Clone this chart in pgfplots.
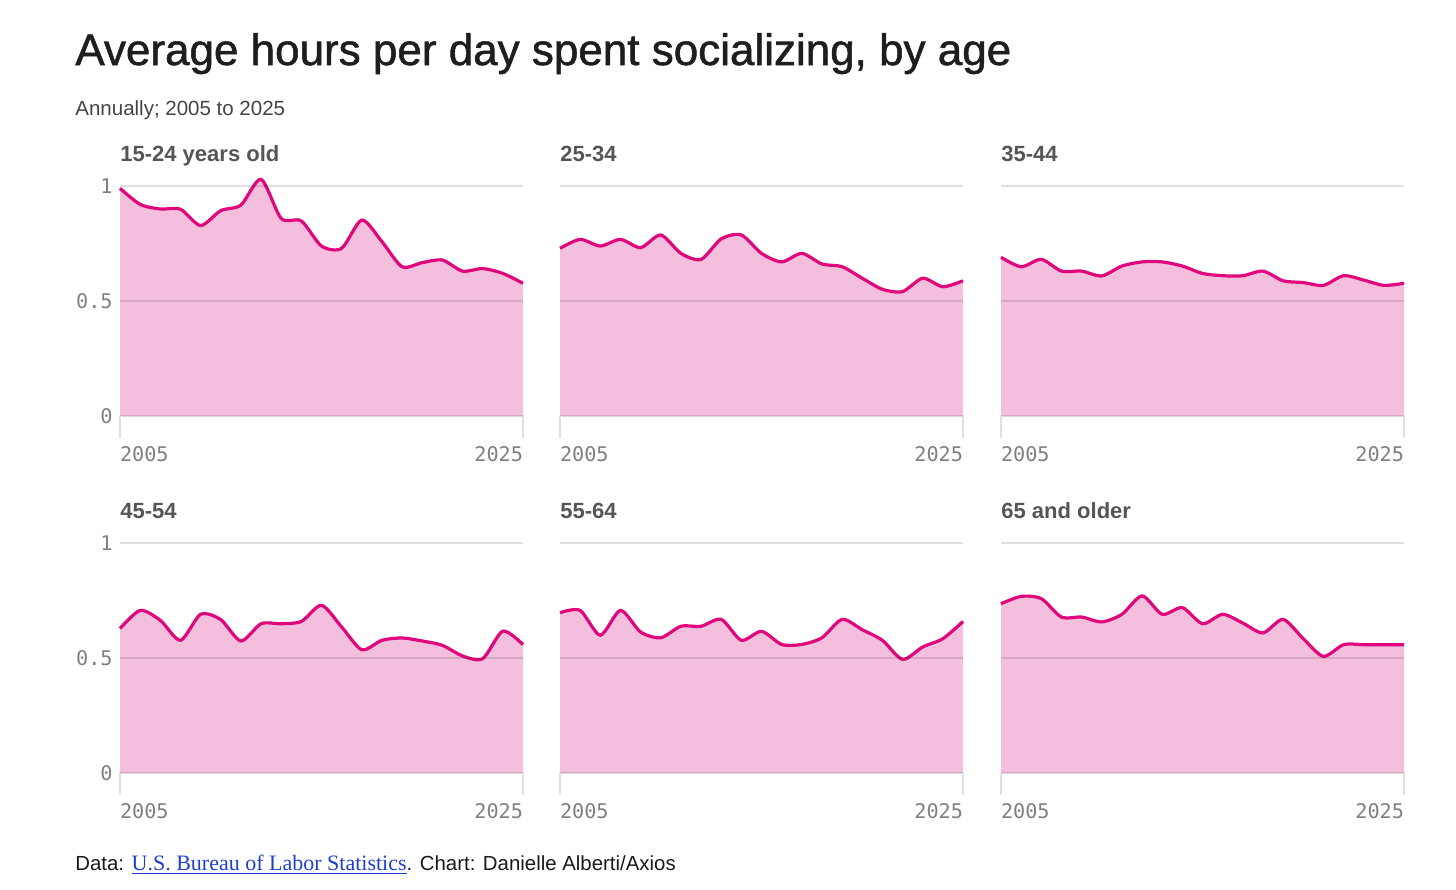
\documentclass[border=0pt]{standalone}
\usepackage{pgfplots}
\usepackage{pgfplotstable}
\pgfplotsset{compat=1.18}
\usepackage{fontspec}
\setmainfont{Liberation Sans}
\newfontfamily\titlef[FakeBold=1.2]{Liberation Sans}
\newfontfamily\monof{DejaVu Sans Mono}
\newfontfamily\seriff{Liberation Serif}
\definecolor{linec}{HTML}{E0077D}
\definecolor{fillc}{HTML}{F4BFDC}
\definecolor{ticklab}{HTML}{808080}
\definecolor{ptitle}{HTML}{555555}
\definecolor{linkc}{HTML}{1F3FCC}
\definecolor{titlec}{HTML}{1E1E1E}
\definecolor{subc}{HTML}{444444}

\pgfplotstableread{
year a b c d e f
2005 0.990 0.729 0.690 0.628 0.697 0.736
2006 0.920 0.768 0.649 0.707 0.707 0.768
2007 0.900 0.739 0.681 0.664 0.599 0.758
2008 0.899 0.768 0.630 0.577 0.707 0.678
2009 0.828 0.732 0.630 0.690 0.613 0.678
2010 0.893 0.787 0.609 0.667 0.588 0.657
2011 0.917 0.707 0.652 0.574 0.638 0.690
2012 1.029 0.681 0.670 0.649 0.638 0.770
2013 0.859 0.770 0.670 0.649 0.668 0.690
2014 0.848 0.787 0.652 0.659 0.577 0.719
2015 0.739 0.707 0.620 0.729 0.616 0.649
2016 0.729 0.670 0.610 0.635 0.559 0.690
2017 0.852 0.707 0.610 0.536 0.559 0.652
2018 0.758 0.661 0.630 0.577 0.588 0.609
2019 0.649 0.649 0.588 0.587 0.668 0.668
2020 0.667 0.599 0.580 0.574 0.623 0.584
2021 0.678 0.551 0.568 0.555 0.577 0.507
2022 0.630 0.541 0.610 0.509 0.494 0.558
2023 0.641 0.599 0.591 0.497 0.548 0.558
2024 0.620 0.562 0.568 0.617 0.584 0.558
2025 0.577 0.588 0.577 0.558 0.659 0.558
}\data

\pgfplotsset{
  panel/.style={
    scale only axis, width=201.5pt, height=126.5pt,
    xmin=2005, xmax=2025, ymin=0, ymax=1.1,
    axis x line*=bottom, axis y line*=left,
    axis line style={draw=none},
    xtick={2005,2025}, ytick={0,0.5,1},
    xticklabel={\ifnum\ticknum=0 \rlap{2005}\else\llap{2025}\fi},
    yticklabels={},
    tick align=inside, major tick length=11pt,
    x tick style={color=black!12, line width=0.6pt, yshift=-11pt},
    y tick style={draw=none},
    ymajorgrids, major grid style={black, opacity=0.12, line width=0.6pt},
    axis on top,
    xticklabel style={font=\monof\fontsize{10.1}{12}\selectfont, text=ticklab, anchor=north, inner sep=0pt, yshift=-15pt},
    yticklabel style={font=\monof\fontsize{10.1}{12}\selectfont, text=ticklab, anchor=east, inner sep=0pt, xshift=-3.5pt},
    clip=false,
    anchor=south west,
  },
  firstcol/.style={yticklabels={0,0.5,1}},
  fillp/.style={draw=none, fill=fillc, smooth, tension=0.45},
  linep/.style={linec, line width=1.6pt, smooth, tension=0.45},
}

\begin{document}
\begin{tikzpicture}[x=0.5pt, y=-0.5pt]
\useasboundingbox (0,0) rectangle (1456,889);
\coordinate (p1) at (120,416);
\coordinate (p2) at (560,416);
\coordinate (p3) at (1001,416);
\coordinate (p4) at (120,773);
\coordinate (p5) at (560,773);
\coordinate (p6) at (1001,773);

\node[anchor=base west, inner sep=0, font=\titlef\fontsize{22}{24}\selectfont, text=titlec] at (75,65) {Average hours per day spent socializing, by age};
\node[anchor=base west, inner sep=0, font=\fontsize{10.25}{12}\selectfont, text=subc] at (75,115) {Annually; 2005 to 2025};

% Row 1
\begin{axis}[panel, firstcol, at={(p1)}]
\addplot[fillp] table[x=year,y=a]{\data} \closedcycle;
\addplot[linep] table[x=year,y=a]{\data};
\end{axis}
\begin{axis}[panel, at={(p2)}]
\addplot[fillp] table[x=year,y=b]{\data} \closedcycle;
\addplot[linep] table[x=year,y=b]{\data};
\end{axis}
\begin{axis}[panel, at={(p3)}]
\addplot[fillp] table[x=year,y=c]{\data} \closedcycle;
\addplot[linep] table[x=year,y=c]{\data};
\end{axis}

% Row 2
\begin{axis}[panel, firstcol, at={(p4)}]
\addplot[fillp] table[x=year,y=d]{\data} \closedcycle;
\addplot[linep] table[x=year,y=d]{\data};
\end{axis}
\begin{axis}[panel, at={(p5)}]
\addplot[fillp] table[x=year,y=e]{\data} \closedcycle;
\addplot[linep] table[x=year,y=e]{\data};
\end{axis}
\begin{axis}[panel, at={(p6)}]
\addplot[fillp] table[x=year,y=f]{\data} \closedcycle;
\addplot[linep] table[x=year,y=f]{\data};
\end{axis}

% Panel titles
\begin{scope}[every node/.style={anchor=base west, inner sep=0, font=\bfseries\fontsize{11}{13}\selectfont, text=ptitle}]
\node at (120,161.7) {15-24 years old};
\node at (560,161.7) {25-34};
\node at (1001,161.7) {35-44};
\node at (120,518.7) {45-54};
\node at (560,518.7) {55-64};
\node at (1001,518.7) {65 and older};
\end{scope}

\node[anchor=base west, inner sep=0, font=\fontsize{10.2}{12}\selectfont, text=black!90] at (75,870) {Data: {\seriff\fontsize{11}{13}\selectfont\color{linkc}\underline{U.S. Bureau of Labor Statistics}}. Chart: Danielle Alberti/Axios};
\end{tikzpicture}
\end{document}
